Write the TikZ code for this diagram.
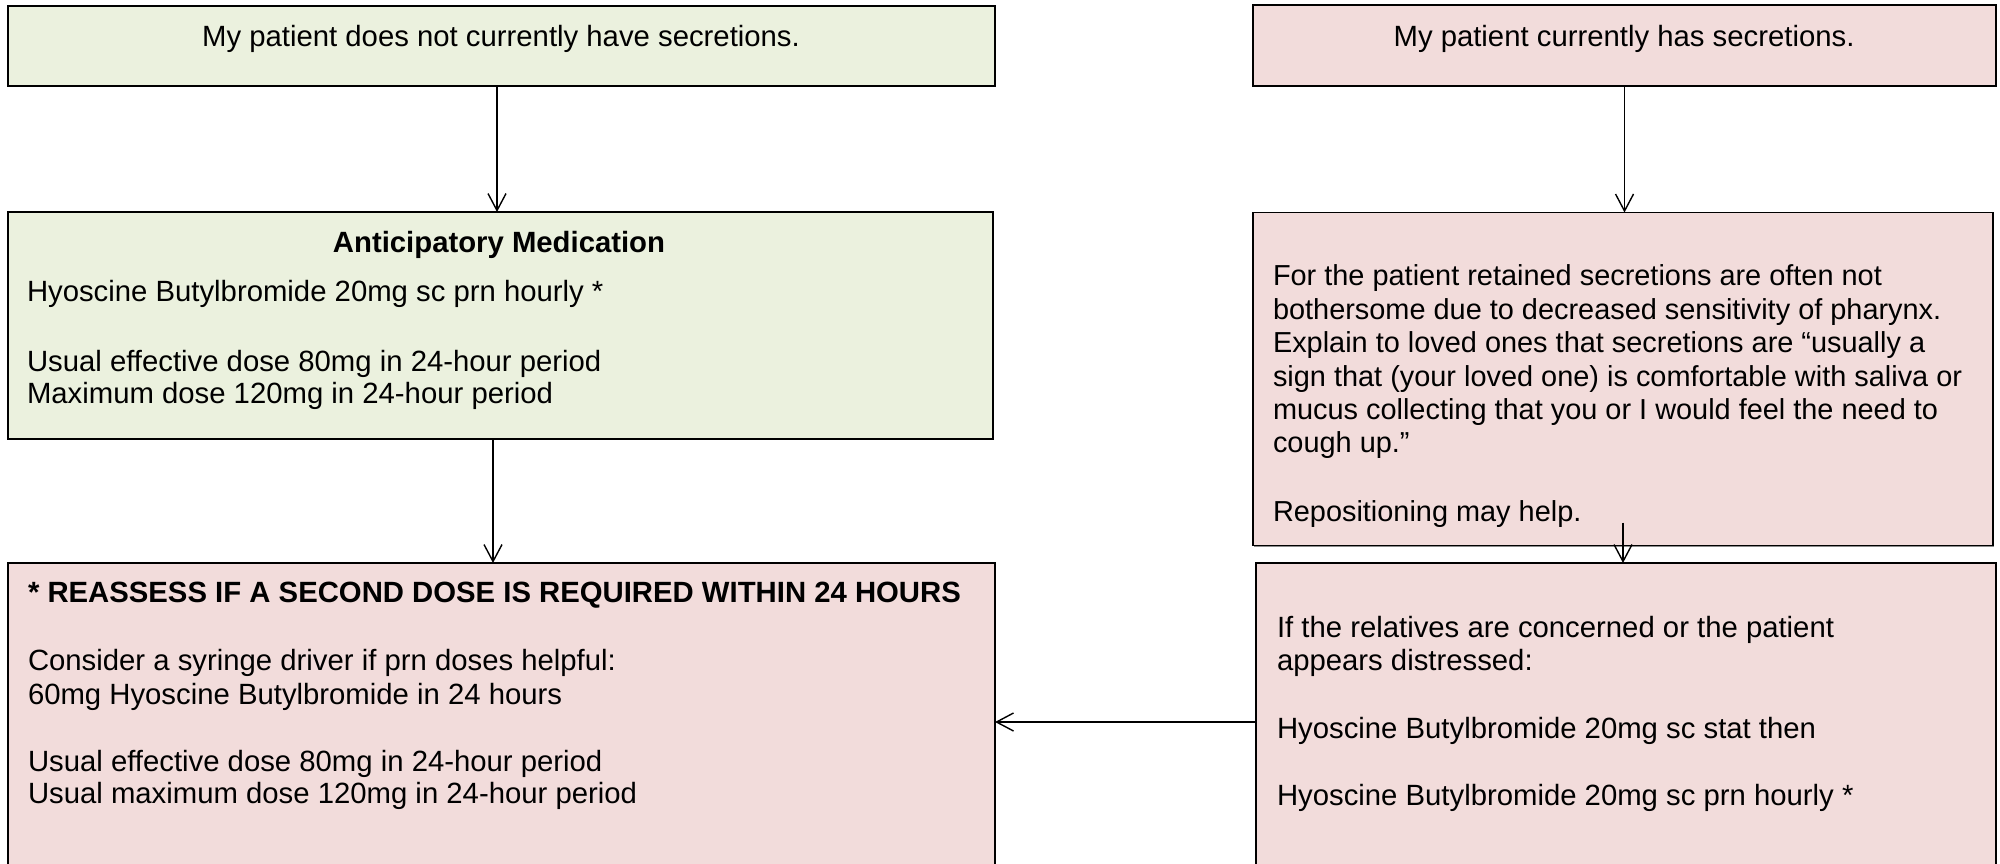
\documentclass[tikz,border=0pt]{standalone}
\usepackage{fontspec}
\setmainfont{Liberation Sans}
\usetikzlibrary{arrows.meta,shadows}

\definecolor{olivefill}{RGB}{235,241,222}
\definecolor{rosefill}{RGB}{242,220,219}

\tikzset{
  box/.style={rectangle, draw=black, line width=0.9pt, anchor=north west,
    inner sep=0pt, outer sep=0pt,
    drop shadow={shadow xshift=0.7pt, shadow yshift=-0.7pt, fill=black!45, opacity=1}},
  greenbox/.style={box, fill=olivefill},
  pinkbox/.style={box, fill=rosefill},
  txt/.style={anchor=base west, inner sep=0pt, outer sep=0pt,
    font=\fontsize{14.65}{17}\selectfont},
  ctxt/.style={txt, anchor=base},
  boldtxt/.style={font=\fontsize{14.65}{17}\selectfont\bfseries},
  notetxt/.style={txt, font=\fontsize{14.45}{17}\selectfont},
  conn/.style={draw=black, line width=0.7pt,
    -{Straight Barb[length=8.5pt, width=9pt, line width=0.7pt]}}
}

\begin{document}
\begin{tikzpicture}[x=0.5pt, y=-0.5pt]
\useasboundingbox (0,0) rectangle (2000,863);

% boxes
\node[greenbox, minimum width=493.5pt, minimum height=40pt]  (b1) at (8,6) {};
\node[greenbox, minimum width=492.5pt, minimum height=113.5pt] (b2) at (8,212) {};
\node[pinkbox,  minimum width=493.5pt, minimum height=168.5pt] (b3) at (8,563) {};
\node[pinkbox,  minimum width=371.5pt, minimum height=40.5pt]  (b4) at (1253,5) {};
\node[pinkbox,  minimum width=370pt,   minimum height=166.5pt] (b5) at (1253,212.5) {};
\node[pinkbox,  minimum width=370pt,   minimum height=168.5pt] (b6) at (1256,563) {};

% left column texts
\node[ctxt] (t1) at (501,46) {My patient does not currently have secretions.};

\node[ctxt, boldtxt] (t2a) at (499,252) {Anticipatory Medication};
\node[txt] (t2b) at (27,301) {Hyoscine Butylbromide 20mg sc prn hourly *};
\node[txt] (t2c) at (27,371) {Usual effective dose 80mg in 24-hour period};
\node[txt] (t2d) at (27,403) {Maximum dose 120mg in 24-hour period};

\node[txt, boldtxt] (t3a) at (28,602) {* REASSESS IF A SECOND DOSE IS REQUIRED WITHIN 24 HOURS};
\node[txt] (t3b) at (28,670) {Consider a syringe driver if prn doses helpful:};
\node[txt] (t3c) at (28,704) {60mg Hyoscine Butylbromide in 24 hours};
\node[txt] (t3d) at (28,771) {Usual effective dose 80mg in 24-hour period};
\node[txt] (t3e) at (28,803) {Usual maximum dose 120mg in 24-hour period};

% right column texts
\node[ctxt] (t4) at (1624,46) {My patient currently has secretions.};

\node[notetxt] (t5a) at (1273,285) {For the patient retained secretions are often not};
\node[notetxt] (t5b) at (1273,319) {bothersome due to decreased sensitivity of pharynx.};
\node[notetxt] (t5c) at (1273,352) {Explain to loved ones that secretions are “usually a};
\node[notetxt] (t5d) at (1273,386) {sign that (your loved one) is comfortable with saliva or};
\node[notetxt] (t5e) at (1273,419) {mucus collecting that you or I would feel the need to};
\node[notetxt] (t5f) at (1273,452) {cough up.”};
\node[notetxt] (t5g) at (1273,521) {Repositioning may help.};

\node[txt] (t6a) at (1277,637) {If the relatives are concerned or the patient};
\node[txt] (t6b) at (1277,670) {appears distressed:};
\node[txt] (t6c) at (1277,738) {Hyoscine Butylbromide 20mg sc stat then};
\node[txt] (t6d) at (1277,805) {Hyoscine Butylbromide 20mg sc prn hourly *};

% connectors
\draw[conn] ([xshift=-2.25pt]b1.south) -- ([xshift=-2.25pt]b1.south |- b2.north);
\draw[conn] ([xshift=-3.75pt]b2.south) -- ([xshift=-3.75pt]b2.south |- b3.north);
\draw[conn] (b4.south) -- (b4.south |- b5.north);
\draw[conn] ([yshift=11.5pt]b5.south) -- (b5.south |- b6.north);
\draw[conn] ([yshift=4.75pt]b6.west) -- ([yshift=4.75pt]b6.west -| b3.east);
\end{tikzpicture}
\end{document}
